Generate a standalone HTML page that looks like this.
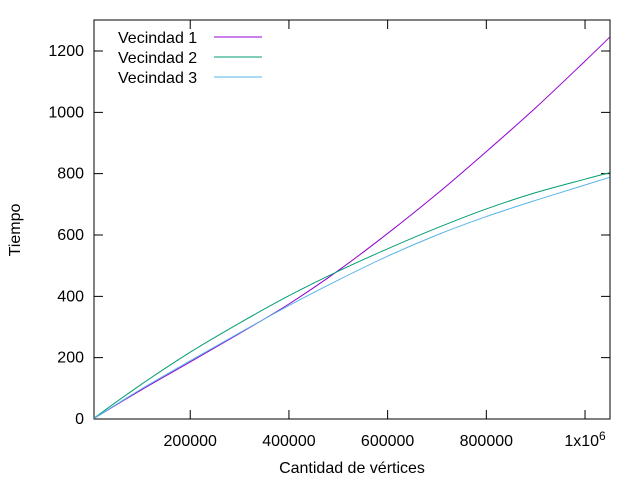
<!DOCTYPE html>
<html><head><meta charset="utf-8"><style>
body{margin:0;background:#fff}
svg{display:block;font-family:"Liberation Sans",sans-serif;font-size:16px}
</style></head><body>
<svg id="chart" width="640" height="480">
<rect x="94" y="20" width="516" height="399" fill="none" stroke="#000" stroke-width="1"/>
<g id="ticks"></g>
<g id="series"></g>
<text x="16" y="230" transform="rotate(-90 16 230)" text-anchor="middle" dominant-baseline="middle">Tiempo</text>
<text x="352" y="473" text-anchor="middle">Cantidad de vértices</text>
<g id="legend"></g>
</svg>
<script>
const xVals=[5000,100000,200000,300000,400000,500000,600000,700000,800000,900000,1000000,1050000];
const v1=[2,94,186,279,375,484,605,734,872,1015,1167,1245];
const v2=[3,112,218,313,402,482,555,623,685,738,782,803];
const v3=[2,97,190,281,370,453,531,600,660,713,763,788];
const yTicks=[0,200,400,600,800,1000,1200];
const xTicks=[200000,400000,600000,800000,1000000];
const xTickLabels=["200000","400000","600000","800000","1x10^6"];
const seriesNames=["Vecindad 1","Vecindad 2","Vecindad 3"];
const colors=["#9400d3","#009e73","#56b4e9"];
const X0=94,X1=610,Y0=419,Y1=20,xmin=5000,xmax=1050600,ymin=0,ymax=1301;
const sx=v=>X0+(v-xmin)/(xmax-xmin)*(X1-X0);
const sy=v=>Y0-(v-ymin)/(ymax-ymin)*(Y0-Y1);
const NS="http://www.w3.org/2000/svg";
function mk(t,a,p){const e=document.createElementNS(NS,t);for(const k in a)e.setAttribute(k,a[k]);p.appendChild(e);return e;}
const tg=document.getElementById('ticks');
yTicks.forEach(v=>{const y=sy(v);
 mk('path',{d:`M${X0} ${y}h9M${X1} ${y}h-9`,stroke:'#000'},tg);
 const t=mk('text',{x:X0-10,y:y+5,'text-anchor':'end'},tg);t.textContent=v;
 
 });
xTicks.forEach((v,i)=>{const x=sx(v);
 mk('path',{d:`M${x} ${Y0}v-9M${x} ${Y1}v9`,stroke:'#000'},tg);
 const t=mk('text',{x:x,y:446,'text-anchor':'middle'},tg);
 const lab=xTickLabels[i];
 if(lab.includes('^')){const [b,e]=lab.split('^');t.textContent=b;const s=mk('tspan',{dy:-6,'font-size':12},t);s.textContent=e;}
 else t.textContent=lab;
 
 });
function smooth(pts){let d=`M${pts[0][0]} ${pts[0][1]}`;
 for(let i=0;i<pts.length-1;i++){const p0=pts[i-1]||pts[i],p1=pts[i],p2=pts[i+1],p3=pts[i+2]||p2;
  d+=`C${p1[0]+(p2[0]-p0[0])/6} ${p1[1]+(p2[1]-p0[1])/6} ${p2[0]-(p3[0]-p1[0])/6} ${p2[1]-(p3[1]-p1[1])/6} ${p2[0]} ${p2[1]}`;}
 return d;}
const sg=document.getElementById('series');const lg=document.getElementById('legend');
[v1,v2,v3].forEach((s,i)=>{
 const p=mk('path',{d:smooth(xVals.map((x,j)=>[sx(x),sy(s[j])])),fill:'none',stroke:colors[i],'stroke-width':1},sg);
 
 
 const y=37+i*20;
 const t=mk('text',{x:118,y:y+6},lg);t.textContent=seriesNames[i];
 
 
 const l=mk('path',{d:`M214 ${y}h48`,stroke:colors[i]},lg);
 
 
});
</script>
</body></html>
